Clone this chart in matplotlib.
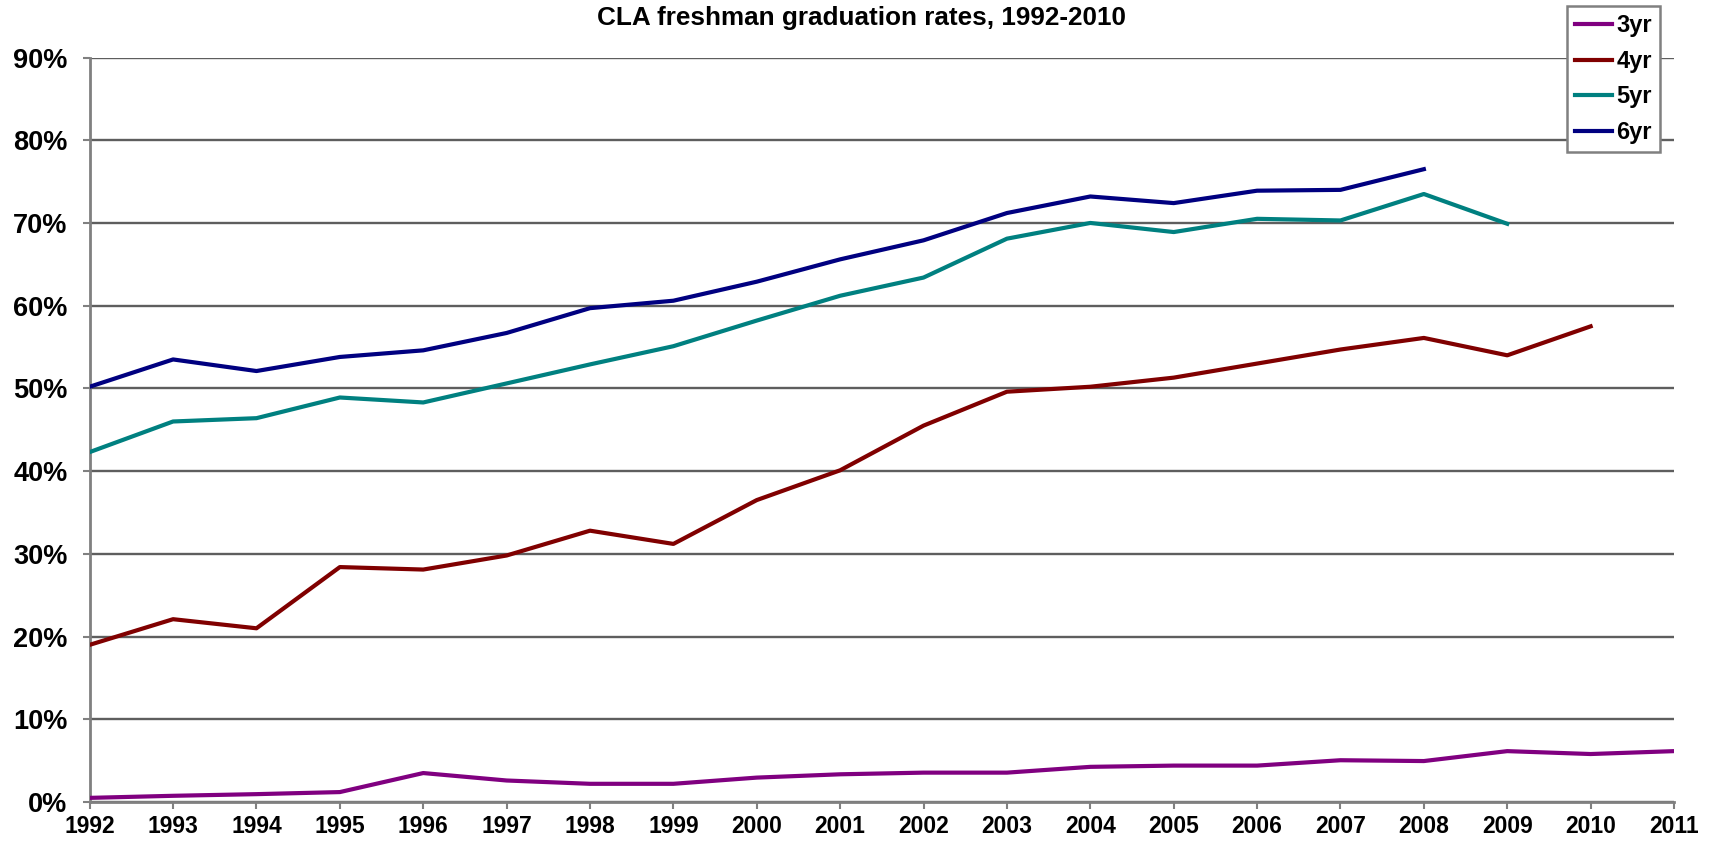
import matplotlib
matplotlib.use("Agg")
import matplotlib.pyplot as plt
from matplotlib.ticker import FuncFormatter

plt.rcParams['font.family'] = ['Liberation Sans', 'DejaVu Sans']

years = list(range(1992, 2012))

# graduation rates in percent
rate_3yr = [0.5, 0.75, 0.95, 1.2, 3.5, 2.6, 2.2, 2.2, 2.95, 3.35, 3.55, 3.55, 4.25, 4.4,
            4.4, 5.05, 4.95, 6.15, 5.8, 6.15]
rate_4yr = [19.0, 22.1, 21.0, 28.4, 28.1, 29.8, 32.8, 31.2, 36.5, 40.1, 45.5, 49.6, 50.2,
            51.3, 53.0, 54.7, 56.1, 54.0, 57.5]
rate_5yr = [42.3, 46.0, 46.4, 48.9, 48.3, 50.6, 52.9, 55.1, 58.2, 61.2, 63.4, 68.1, 70.0,
            68.9, 70.5, 70.3, 73.5, 69.9]
rate_6yr = [50.2, 53.5, 52.1, 53.8, 54.6, 56.7, 59.7, 60.6, 62.9, 65.6, 67.9, 71.2, 73.2,
            72.4, 73.9, 74.0, 76.5]

series = [("3yr", rate_3yr, "#800080"),
          ("4yr", rate_4yr, "#800000"),
          ("5yr", rate_5yr, "#008080"),
          ("6yr", rate_6yr, "#000080")]

fig = plt.figure(figsize=(17.15, 8.42), dpi=100)
ax = fig.add_axes([0.0523, 0.0475, 0.9238, 0.8842])

for name, vals, col in series:
    ax.plot(years[:len(vals)], vals, color=col, lw=3, label=name, zorder=3)

ax.set_xlim(1992, 2011)
ax.set_ylim(0, 90)
ax.set_xticks(years)
ax.set_yticks(range(0, 91, 10))
ax.yaxis.set_major_formatter(FuncFormatter(lambda v, p: f"{int(v)}%"))

ax.grid(axis="y", color="#5e5e5e", lw=1.7, zorder=1)
ax.spines[["top", "right"]].set_visible(False)
for s in ("left", "bottom"):
    ax.spines[s].set_color("#808080")
    ax.spines[s].set_linewidth(2)

ax.tick_params(axis="y", length=5, width=1.5, color="#808080", pad=11,
               labelsize=19.5)
ax.tick_params(axis="x", length=5, width=1.5, color="#808080", pad=4,
               labelsize=16.5)
for lab in ax.get_xticklabels() + ax.get_yticklabels():
    lab.set_fontweight("bold")

fig.text(0.5026, 1 - 18 / 842, "CLA freshman graduation rates, 1992-2010",
         ha="center", va="center", fontsize=18.8, fontweight="bold")

leg = ax.legend(loc="upper left", bbox_to_anchor=(1567 / 1715, 1 - 6 / 842),
                bbox_transform=fig.transFigure, borderaxespad=0,
                fancybox=False, framealpha=1, edgecolor="#808080",
                prop={"weight": "bold", "size": 17}, handlelength=1.55,
                handletextpad=0.2, labelspacing=0.53, borderpad=0.35)
leg.get_frame().set_linewidth(1.8)
leg.set_zorder(5)

fig.savefig("out.png", dpi=100)
